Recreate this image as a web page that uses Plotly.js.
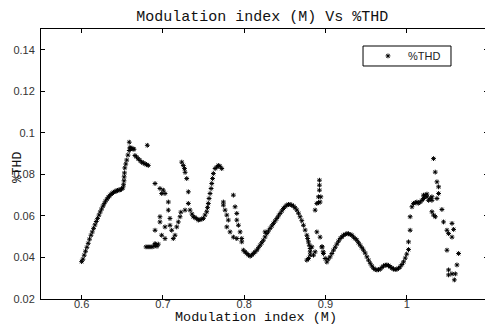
<!DOCTYPE html>
<html><head><meta charset="utf-8">
<script src="https://cdn.plot.ly/plotly-3.0.1.min.js"></script>
<style>html,body{margin:0;padding:0;overflow:hidden;background:#fff}</style>
</head><body><div id="chart" style="width:490px;height:325px"></div>
<script>
// Modulation index (M)
const modulationIndex = [
0.600,0.6016,0.6032,0.6048,0.6065,0.6081,0.6097,0.6115,0.6131,0.6147,0.6164,0.6180,0.6196,0.6213,0.6229,0.6245,0.6262,0.6278,0.6294,0.6312,
0.6328,0.6344,0.6361,0.6377,0.6393,0.6410,0.6426,0.6442,0.6459,0.6475,0.6491,0.6507,0.6516,0.6521,0.6523,0.6527,0.6531,0.6543,0.6555,0.6570,
0.6586,0.6586,0.6595,0.6605,0.6616,0.6632,0.6644,0.6656,0.6675,0.6697,0.6718,0.6739,0.6759,0.6780,0.6800,0.6820,0.6808,
0.6792,0.6817,0.6841,0.6866,0.6890,0.6909,0.6927,0.6943,0.6903,0.6903,0.6964,0.7005,0.7026,0.6985,0.7067,0.7067,0.6964,0.6964,0.7087,0.7087,
0.7026,0.6903,0.7108,0.6985,0.7149,0.7026,0.7128,0.7170,0.7190,0.7211,0.7221,
0.7232,0.7251,0.7266,0.7273,0.7293,0.7313,0.7313,0.7272,0.7334,0.7358,0.7374,0.7395,0.7416,0.7436,0.7457,0.7478,0.7498,0.7518,0.7539,0.7549,
0.7559,0.7568,0.7580,0.7593,0.7601,0.7611,0.7621,0.7642,0.7663,0.7682,0.7703,0.7724,
0.7744,0.7744,0.7765,0.7786,0.7805,0.7786,0.7826,0.7867,0.7909,0.7867,0.7888,0.7909,0.7909,0.7929,0.7950,0.7970,0.7970,
0.7990,0.8011,0.8032,0.8052,0.8073,0.8093,0.8113,0.8134,0.8155,0.8175,0.8196,0.8216,0.8236,0.8257,0.8278,0.8298,0.8319,0.8340,0.8360,0.8381,
0.8401,0.8422,0.8442,0.8463,0.8483,0.8504,0.8525,0.8545,0.8565,0.8586,0.8606,0.8627,0.8648,0.8668,0.8688,0.8709,0.8729,0.8750,0.8771,0.8781,
0.8791,0.8801,0.8812,0.8812,0.8812,0.8791,0.8771,0.8257,
0.8873,0.8894,0.8914,0.8926,0.8926,0.8926,0.8943,0.8934,0.8914,0.8894,0.8934,0.8959,0.8972,0.8833,0.8873,0.8853,0.8956,0.8975,0.8996,
0.9017,0.9034,0.9058,0.9079,0.9099,0.9120,0.9140,0.9160,0.9181,0.9202,0.9222,0.9243,0.9264,0.9283,0.9304,0.9325,0.9345,0.9366,0.9387,0.9406,
0.9427,0.9448,0.9468,0.9489,0.9510,0.9530,0.9551,0.9571,0.9591,0.9612,0.9633,0.9653,0.9674,0.9695,0.9714,0.9735,0.9756,0.9776,0.9797,0.9818,
0.9837,0.9858,0.9879,0.9899,0.9920,0.9941,0.9961,0.9982,1.0000,1.0022,1.0022,1.0042,1.0042,1.0064,
1.0084,1.0105,1.0125,1.0142,1.0166,1.0187,1.0207,1.0216,1.0207,1.0228,1.0249,1.0249,1.0269,1.0290,1.0310,1.0310,1.0310,1.0330,1.0352,
1.0330,1.0351,1.0372,1.0392,1.0392,1.0372,1.0433,1.0453,1.0495,1.0515,1.0557,1.0577,1.0557,1.0638,1.0618,1.0495,1.0515,1.0557,1.0598,1.0586,1.0515
];
// %THD
const thdValues = [
0.0380,0.0392,0.0411,0.0430,0.0449,0.0468,0.0488,0.0507,0.0523,0.0540,0.0557,0.0573,0.0588,0.0604,0.0619,0.0633,0.0647,0.0659,0.0671,0.0681,
0.0690,0.0697,0.0704,0.0709,0.0714,0.0717,0.0720,0.0723,0.0724,0.0726,0.0729,0.0735,0.0750,0.0769,0.0788,0.0807,0.0831,0.0850,0.0869,0.0893,
0.0955,0.0915,0.0930,0.0925,0.0924,0.0923,0.0921,0.0891,0.0884,0.0875,0.0867,0.0859,0.0855,0.0851,0.0847,0.0843,0.0940,
0.0451,0.0451,0.0451,0.0451,0.0454,0.0461,0.0454,0.0464,0.0467,0.0756,0.0732,0.0724,0.0708,0.0708,0.0667,0.0628,0.0596,0.0571,0.0588,0.0555,
0.0547,0.0531,0.0531,0.0507,0.0507,0.0491,0.0491,0.0547,0.0571,0.0596,0.0618,
0.0859,0.0843,0.0828,0.0810,0.0780,0.0716,0.0660,0.0628,0.0628,0.0609,0.0596,0.0592,0.0587,0.0580,0.0582,0.0585,0.0588,0.0604,0.0620,0.0640,
0.0660,0.0684,0.0708,0.0732,0.0756,0.0780,0.0804,0.0828,0.0835,0.0843,0.0839,0.0828,
0.0667,0.0652,0.0628,0.0604,0.0580,0.0547,0.0523,0.0498,0.0491,0.0700,0.0644,0.0612,0.0580,0.0555,0.0523,0.0491,0.0475,
0.0435,0.0427,0.0419,0.0412,0.0406,0.0411,0.0419,0.0427,0.0435,0.0447,0.0459,0.0471,0.0483,0.0499,0.0515,0.0527,0.0540,0.0552,0.0564,0.0576,
0.0588,0.0600,0.0612,0.0624,0.0636,0.0645,0.0652,0.0655,0.0655,0.0652,0.0647,0.0639,0.0628,0.0613,0.0596,0.0577,0.0555,0.0532,0.0507,0.0491,
0.0475,0.0459,0.0443,0.0427,0.0411,0.0395,0.0387,0.0523,
0.0628,0.0660,0.0692,0.0724,0.0748,0.0772,0.0692,0.0667,0.0664,0.0523,0.0498,0.0451,0.0427,0.0451,0.0427,0.0411,0.0451,0.0419,0.0395,
0.0378,0.0392,0.0403,0.0419,0.0435,0.0449,0.0464,0.0478,0.0491,0.0499,0.0507,0.0511,0.0515,0.0514,0.0511,0.0507,0.0498,0.0491,0.0483,0.0471,
0.0459,0.0447,0.0435,0.0421,0.0403,0.0387,0.0372,0.0359,0.0348,0.0342,0.0340,0.0341,0.0344,0.0352,0.0359,0.0363,0.0364,0.0361,0.0355,0.0349,
0.0344,0.0342,0.0343,0.0348,0.0355,0.0366,0.0379,0.0397,0.0416,0.0438,0.0475,0.0531,0.0596,0.0644,
0.0660,0.0664,0.0667,0.0661,0.0667,0.0675,0.0684,0.0690,0.0700,0.0700,0.0705,0.0692,0.0675,0.0684,0.0675,0.0692,0.0620,0.0604,0.0596,
0.0876,0.0811,0.0764,0.0740,0.0708,0.0684,0.0631,0.0571,0.0531,0.0515,0.0564,0.0535,0.0498,0.0419,0.0364,0.0435,0.0340,0.0321,0.0321,0.0292,0.0316
];
const xTickValues = [0.6, 0.7, 0.8, 0.9, 1, 1.1];
const xTickLabels = ['0.6', '0.7', '0.8', '0.9', '1', '1.1'];
const yTickValues = [0.02, 0.04, 0.06, 0.08, 0.1, 0.12, 0.14];
const yTickLabels = ['0.02', '0.04', '0.06', '0.08', '0.1', '0.12', '0.14'];
const seriesName = '%THD';

const monoFont = 'Liberation Mono, Courier New, monospace';
const sansFont = 'Liberation Sans, Arial, sans-serif';

const trace = {
  x: modulationIndex, y: thdValues, type: 'scatter', mode: 'markers', name: seriesName,
  marker: {symbol: 'asterisk-open', size: 4, color: '#000', line: {color: '#000', width: 1}}
};

const axisCommon = {
  showline: true, linecolor: '#000', linewidth: 1, mirror: 'ticks',
  ticks: 'inside', ticklen: 4, tickcolor: '#000', tickwidth: 1,
  showgrid: false, zeroline: false,
  tickfont: {family: sansFont, size: 11, color: '#333'}
};

const layout = {
  width: 490, height: 325,
  margin: {l: 41, r: 2, t: 29, b: 26},
  paper_bgcolor: '#fff', plot_bgcolor: '#fff',
  title: {text: 'Modulation index (M) Vs %THD', font: {family: monoFont, size: 15, color: '#111'},
          x: 0.535, xanchor: 'center', y: 0.951, yanchor: 'middle', xref: 'container', yref: 'container'},
  xaxis: Object.assign({}, axisCommon, {range: [0.55, 1.1], tickvals: xTickValues, ticktext: xTickLabels, ticklabelstandoff: -5}),
  yaxis: Object.assign({}, axisCommon, {range: [0.02, 0.15], tickvals: yTickValues, ticktext: yTickLabels, ticklabelstandoff: 3}),
  showlegend: true,
  legend: {x: 0.7315, y: 0.954, xanchor: 'left', yanchor: 'top', bgcolor: 'rgba(0,0,0,0)', borderwidth: 0,
           font: {family: sansFont, size: 11, color: '#222'}},
  shapes: [
    {type: 'rect', xref: 'paper', yref: 'paper', x0: 0.7204, x1: 0.9172, y0: 0.863, y1: 0.937,
     line: {color: '#000', width: 1}, fillcolor: 'rgba(0,0,0,0)', layer: 'above'}
  ],
  annotations: [
    {text: 'Modulation index (M)', xref: 'paper', yref: 'paper', x: 0.481, y: -0.069, xanchor: 'center', yanchor: 'middle',
     showarrow: false, font: {family: monoFont, size: 13.5, color: '#111'}},
    {text: '%THD', xref: 'paper', yref: 'paper', x: -0.051, y: 0.486, xanchor: 'center', yanchor: 'middle', textangle: -90,
     showarrow: false, font: {family: monoFont, size: 13, color: '#111'}}
  ]
};

Plotly.newPlot('chart', [trace], layout, {displayModeBar: false, staticPlot: true});
</script>
</body></html>
